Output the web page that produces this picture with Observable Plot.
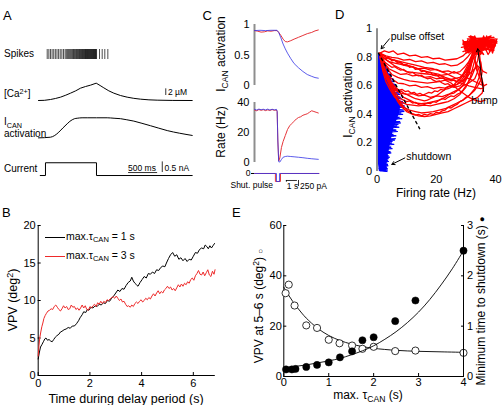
<!DOCTYPE html>
<html><head><meta charset="utf-8">
<script src="https://cdn.jsdelivr.net/npm/d3@7"></script>
<script src="https://cdn.jsdelivr.net/npm/@observablehq/plot@0.6"></script>
<style>
body{margin:0;background:#fff;}
#root{position:relative;width:503px;height:405px;overflow:hidden;background:#fff;font-family:"Liberation Sans",Arial,sans-serif;color:#000;}
.t{position:absolute;white-space:nowrap;line-height:1;}
.t sub{font-size:0.72em;vertical-align:-0.35em;line-height:0}
.t sup{font-size:0.72em;vertical-align:0.45em;line-height:0}
.lg{position:absolute;height:0;width:20px;}
</style></head><body><div id="root"></div><script>
// ---------------- DATA ----------------
// Panel A
const spikeTimesMs = [150,178,206,234,262,290,318,346,374,402,430,458,478,496,513,529,545,560,575,589,603,617,630,643,656,668,680,692,704,715,726,737,748,759,769,779,789,799,809,819,828,837,846,855,864,873,882,891,900,909,918,927,936,945,954,963,972,981,990,999,1050,1096,1141,1193];
const caTrace = [[0,0.1],[100,0.15],[206,0.4],[290,0.7],[379,1.1],[470,1.7],[551,2.3],[640,3.0],[723,3.8],[810,4.3],[895,4.7],[993,5.3],[1060,4.6],[1124,3.9],[1210,3.0],[1296,2.3],[1410,1.6],[1526,1.1],[1640,0.75],[1755,0.5],[1900,0.3],[2042,0.2],[2300,0.12],[2645,0.1]];
const icanTrace = [[0,0.02],[206,0.05],[280,0.13],[350,0.28],[420,0.47],[494,0.66],[540,0.77],[580,0.84],[620,0.89],[666,0.91],[750,0.93],[838,0.93],[1000,0.93],[1182,0.93],[1300,0.91],[1411,0.89],[1520,0.84],[1640,0.78],[1780,0.68],[1928,0.57],[2070,0.46],[2215,0.35],[2430,0.23],[2645,0.13]];
const currentTrace = [[30,0],[120,0],[120,0.6],[998,0.6],[998,0],[2645,0]];

// Panel B
const vpvTau1 = [[0,2.2],[0.04,3.0],[0.09,3.8],[0.14,4.1],[0.2,4.5],[0.26,4.9],[0.3,5.0],[0.36,4.7],[0.42,4.8],[0.48,4.6],[0.54,4.5],[0.6,4.8],[0.66,5.1],[0.72,5.3],[0.8,5.5],[0.86,5.8],[0.92,5.9],[1.0,6.1],[1.08,6.2],[1.16,6.4],[1.24,6.3],[1.32,6.6],[1.4,6.6],[1.48,6.9],[1.56,7.3],[1.62,7.7],[1.7,8.1],[1.76,8.5],[1.84,8.4],[1.9,8.8],[1.96,8.7],[2.04,9.1],[2.12,9.0],[2.2,9.3],[2.28,9.2],[2.36,9.5],[2.44,9.4],[2.52,9.7],[2.6,9.6],[2.68,10.0],[2.76,9.9],[2.84,10.3],[2.92,10.6],[3.0,11.0],[3.08,11.4],[3.16,11.2],[3.24,11.6],[3.32,11.5],[3.4,12.0],[3.48,12.4],[3.56,12.6],[3.62,13.1],[3.68,12.6],[3.74,12.3],[3.8,12.1],[3.86,11.9],[3.94,12.4],[4.02,12.8],[4.1,13.2],[4.18,13.0],[4.26,13.6],[4.34,13.5],[4.42,13.8],[4.5,13.6],[4.58,14.1],[4.66,14.0],[4.74,14.4],[4.82,14.6],[4.9,14.5],[4.96,15.0],[5.04,15.6],[5.12,16.1],[5.2,16.4],[5.28,15.9],[5.36,16.1],[5.44,15.5],[5.52,15.7],[5.6,15.3],[5.68,15.6],[5.76,15.2],[5.84,15.5],[5.92,15.4],[6.0,15.9],[6.08,16.4],[6.16,16.3],[6.24,16.8],[6.32,17.0],[6.4,16.9],[6.46,17.4],[6.52,17.2],[6.58,16.9],[6.64,17.3],[6.7,17.0],[6.76,17.3],[6.82,17.6]];
const vpvTau3 = [[0,2.6],[0.03,4.0],[0.06,5.0],[0.1,5.8],[0.14,6.5],[0.18,7.0],[0.22,7.6],[0.27,8.0],[0.32,8.3],[0.38,8.6],[0.44,8.7],[0.5,8.9],[0.56,8.8],[0.62,9.2],[0.68,9.4],[0.74,9.1],[0.8,8.8],[0.86,8.6],[0.92,8.9],[0.98,9.3],[1.04,9.0],[1.1,9.2],[1.16,8.8],[1.22,8.9],[1.28,9.4],[1.34,9.1],[1.4,9.2],[1.46,8.8],[1.52,9.0],[1.58,8.7],[1.64,9.0],[1.7,9.4],[1.76,9.0],[1.82,9.3],[1.88,8.8],[1.94,8.7],[2.0,9.2],[2.06,9.0],[2.12,9.3],[2.18,9.5],[2.24,9.2],[2.3,9.7],[2.36,9.5],[2.42,9.9],[2.48,9.6],[2.54,9.9],[2.6,9.7],[2.66,10.1],[2.72,10.0],[2.78,10.2],[2.84,10.4],[2.9,10.5],[2.96,10.3],[3.02,10.6],[3.08,10.3],[3.14,10.0],[3.2,10.2],[3.26,9.8],[3.32,9.9],[3.38,9.5],[3.44,9.2],[3.5,9.3],[3.56,9.1],[3.62,9.4],[3.68,9.2],[3.74,9.6],[3.8,9.8],[3.86,9.6],[3.92,9.9],[3.98,10.1],[4.04,9.8],[4.1,10.0],[4.16,10.3],[4.22,10.1],[4.28,10.4],[4.34,10.2],[4.4,10.6],[4.46,10.9],[4.52,10.6],[4.58,11.0],[4.64,11.3],[4.7,10.9],[4.76,11.2],[4.82,11.0],[4.88,11.4],[4.94,11.6],[5.0,11.9],[5.06,11.6],[5.12,11.8],[5.18,11.4],[5.24,11.6],[5.3,11.3],[5.36,11.7],[5.42,12.1],[5.48,11.8],[5.54,12.2],[5.6,11.9],[5.66,12.3],[5.72,12.1],[5.78,12.5],[5.84,12.3],[5.9,12.8],[5.96,13.0],[6.02,12.7],[6.08,13.3],[6.14,13.6],[6.2,14.0],[6.26,13.5],[6.32,13.4],[6.38,13.8],[6.44,13.3],[6.5,13.7],[6.56,14.1],[6.62,13.4],[6.68,13.2],[6.74,13.9],[6.8,13.5],[6.84,14.1]];
const bXTicks = [0,2,4,6];
const bYTicks = [0,5,10,15,20];

// Panel C
const cIcanRed = [[0,0.9],[0.3,0.89],[0.6,0.875],[0.9,0.88],[1.2,0.895],[1.5,0.89],[1.8,0.9],[2.05,0.9],[2.2,0.87],[2.4,0.82],[2.6,0.76],[2.8,0.72],[3.0,0.715],[3.3,0.735],[3.6,0.76],[4.0,0.79],[4.4,0.82],[4.8,0.85],[5.2,0.87],[5.5,0.895],[5.8,0.91]];
const cIcanBlue = [[0,0.9],[0.5,0.905],[1,0.9],[1.5,0.905],[2.05,0.905],[2.2,0.87],[2.4,0.78],[2.6,0.68],[2.8,0.6],[3.0,0.53],[3.3,0.44],[3.6,0.36],[4.0,0.29],[4.4,0.23],[4.8,0.18],[5.2,0.15],[5.5,0.13],[5.8,0.12]];
const cRateRed = [[0,35],[0.2,34.5],[0.4,35.3],[0.6,34.8],[0.8,35.2],[1,34.6],[1.2,35.1],[1.4,34.7],[1.6,35.3],[1.8,34.8],[2.0,35],[2.06,34],[2.12,15],[2.2,1],[2.3,3],[2.45,10],[2.6,14],[2.8,18],[3.0,22],[3.2,24.5],[3.4,26],[3.6,27.5],[3.8,29],[4.0,30],[4.2,30.5],[4.4,31.5],[4.6,32],[4.8,32.5],[5.0,33.5],[5.2,34.5],[5.4,34],[5.6,33.5],[5.8,33]];
const cRateBlue = [[0,35.5],[0.2,35],[0.4,35.6],[0.6,35.2],[0.8,35.5],[1,35.1],[1.2,35.6],[1.4,35],[1.6,35.5],[1.8,35.1],[2.0,35.4],[2.06,34],[2.12,15],[2.2,0.5],[2.3,0.3],[2.45,2],[2.6,3.5],[2.8,4],[3.0,4.2],[3.3,4],[3.6,3.8],[4.0,3.5],[4.4,3.2],[4.8,2.8],[5.2,2.5],[5.5,2.3],[5.8,2.1]];
const cPulseRed = [[0,0],[1.9,0],[1.9,-330],[2.36,-330],[2.36,0],[5.85,0]];
const cPulseBlue = [[0,0],[2.0,0],[2.0,-330],[2.27,-330],[2.27,0],[5.85,0]];

// Panel D
const dBlueEnvelope = [[0.82,0.3,1.0],[0.78,0.3,2.0],[0.7,0.3,3.7],[0.6,0.3,5.6],[0.5,0.3,7.3],[0.45,0.3,8.0],[0.4,0.3,7.5],[0.35,0.3,6.6],[0.3,0.3,5.7],[0.2,0.3,4.6],[0.1,0.4,3.7],[0.05,0.5,3.4],[0,0.8,3.1]];
const dBlue = [
 [[0.5,0.82],[1.2,0.80],[0.3,0.79],[2.5,0.76],[0.4,0.75],[3.5,0.73],[0.3,0.72],[4.2,0.70],[0.5,0.69],[5.0,0.67],[0.3,0.66],[5.8,0.63],[0.6,0.62],[6.5,0.60],[0.4,0.59],[7.2,0.57],[0.5,0.56],[7.8,0.54],[0.3,0.53],[8.3,0.51],[0.7,0.50],[9.0,0.48],[0.4,0.47],[9.5,0.45],[0.6,0.44],[9.2,0.42],[0.3,0.41],[8.8,0.40],[0.8,0.39],[8.5,0.37],[0.4,0.36],[8.0,0.34],[0.6,0.33],[7.5,0.31],[0.5,0.30],[7.0,0.28],[0.8,0.27],[6.5,0.25],[0.5,0.24],[6.0,0.22],[0.7,0.21],[5.8,0.19],[0.6,0.18],[5.2,0.16],[0.8,0.15],[4.8,0.13],[0.6,0.12],[4.3,0.10],[0.9,0.09],[4.0,0.07],[0.7,0.06],[3.8,0.04],[0.8,0.03],[3.6,0.02],[1.0,0.01],[3.4,0.0]],
 [[0.8,0.81],[2.0,0.78],[0.5,0.77],[3.0,0.74],[0.6,0.74],[4.0,0.71],[0.4,0.70],[4.8,0.68],[0.7,0.67],[5.5,0.65],[0.5,0.64],[6.2,0.61],[0.4,0.61],[6.8,0.58],[0.6,0.57],[7.5,0.55],[0.5,0.55],[8.0,0.52],[0.4,0.52],[8.7,0.49],[0.6,0.49],[9.3,0.46],[0.5,0.46],[9.0,0.43],[0.7,0.43],[8.2,0.41],[0.5,0.39],[7.6,0.38],[0.6,0.35],[7.8,0.35],[0.4,0.32],[6.8,0.32],[0.7,0.29],[6.2,0.29],[0.6,0.26],[5.5,0.26],[0.5,0.23],[6.3,0.23],[0.8,0.20],[5.0,0.20],[0.6,0.17],[4.6,0.17],[0.7,0.14],[4.5,0.14],[0.8,0.11],[3.9,0.11],[0.6,0.08],[3.7,0.08],[0.9,0.05],[3.5,0.05],[0.7,0.02],[3.2,0.02]],
 [[0.3,0.4],[5,0.39],[0.5,0.38],[7,0.37],[0.4,0.36],[6,0.35],[0.6,0.34],[7.2,0.33],[0.3,0.32],[5.5,0.31],[0.5,0.3],[6.5,0.29],[0.4,0.28],[5,0.27],[0.6,0.26],[5.8,0.25],[0.5,0.24],[4.5,0.23],[0.3,0.22],[5.2,0.21],[0.6,0.2],[4.2,0.19],[0.4,0.18],[4.8,0.17],[0.7,0.16],[3.8,0.15],[0.5,0.14],[4.2,0.13],[0.6,0.12],[3.6,0.11],[0.4,0.1],[3.9,0.09],[0.7,0.08],[3.5,0.07],[0.5,0.06],[3.7,0.05],[0.8,0.04],[3.4,0.03],[0.6,0.02],[3.6,0.01],[0.9,0.005],[3.3,0.0]]
];
const dRed = [
 [[1,0.83],[2.5,0.845],[4,0.835],[5.5,0.845],[7,0.82],[9,0.83],[11,0.81],[13,0.815],[15,0.8],[17,0.805],[19,0.79],[21,0.795],[23,0.78],[25,0.785],[27,0.79],[29,0.81],[30.5,0.84],[32,0.87],[33,0.89]],
 [[1,0.83],[3,0.81],[5,0.8],[7,0.795],[9,0.78],[11,0.785],[13,0.77],[15,0.775],[17,0.76],[19,0.765],[21,0.75],[23,0.755],[25,0.74],[27,0.745],[29,0.77],[30.5,0.8],[32,0.84],[33,0.87]],
 [[1,0.83],[2.5,0.79],[4,0.77],[6,0.76],[8,0.75],[10,0.74],[12,0.735],[14,0.72],[16,0.725],[18,0.71],[20,0.715],[22,0.7],[24,0.705],[26,0.69],[28,0.7],[29.5,0.73],[31,0.77],[32.5,0.83],[34,0.88]],
 [[1,0.82],[2.5,0.76],[4,0.72],[6,0.7],[8,0.68],[10,0.685],[12,0.67],[14,0.675],[16,0.66],[18,0.665],[20,0.65],[22,0.655],[24,0.64],[26,0.65],[28,0.66],[30,0.7],[31.5,0.76],[33,0.82],[35,0.87]],
 [[1,0.82],[2,0.74],[3.5,0.68],[5,0.65],[7,0.62],[9,0.615],[11,0.6],[13,0.605],[15,0.59],[17,0.595],[19,0.58],[21,0.59],[23,0.585],[25,0.6],[27,0.61],[28.5,0.64],[30,0.68],[31.5,0.75],[33,0.83],[34,0.88]],
 [[1,0.81],[2,0.72],[3,0.66],[4.5,0.61],[6,0.57],[8,0.55],[10,0.54],[12,0.545],[14,0.53],[16,0.535],[18,0.52],[20,0.53],[22,0.525],[24,0.54],[26,0.55],[28,0.58],[29.5,0.62],[31,0.68],[32,0.76],[33.5,0.85]],
 [[1,0.8],[2,0.7],[3,0.63],[4.5,0.57],[6,0.52],[8,0.49],[10,0.47],[12,0.465],[14,0.46],[16,0.465],[18,0.46],[20,0.47],[22,0.48],[24,0.49],[26,0.51],[28,0.54],[30,0.59],[31.5,0.66],[32.5,0.74],[33.5,0.82]],
 [[2,0.75],[3,0.66],[4.5,0.59],[6,0.53],[7.5,0.48],[9,0.45],[11,0.43],[13,0.42],[15,0.41],[17,0.415],[19,0.42],[21,0.43],[23,0.44],[25,0.46],[27,0.48],[29,0.5],[31,0.53],[33,0.58],[34.5,0.66],[35,0.75],[34.5,0.84]],
 [[3,0.68],[4.5,0.6],[6,0.54],[8,0.48],[10,0.43],[12,0.405],[14,0.39],[16,0.385],[18,0.39],[20,0.4],[22,0.41],[24,0.42],[26,0.44],[28,0.46],[30,0.48],[32,0.5],[34,0.52],[35.5,0.55],[36,0.6],[35,0.68],[33.5,0.76]],
 [[2,0.8],[4,0.77],[6,0.74],[8,0.72],[10,0.7],[12,0.695],[14,0.69],[16,0.685],[18,0.68],[20,0.67],[22,0.675],[24,0.68],[26,0.7],[28,0.68],[30,0.66],[32,0.64],[34,0.62],[36,0.6],[37,0.61]],
 [[1,0.83],[3,0.8],[5,0.785],[7,0.77],[9,0.75],[11,0.74],[13,0.725],[15,0.71],[17,0.7],[19,0.69],[21,0.68],[23,0.66],[25,0.645],[27,0.63],[29,0.615],[31,0.6],[33,0.59],[35,0.58],[36,0.585],[35,0.64],[33.5,0.72],[33,0.8]],
 [[2,0.79],[3.5,0.72],[5,0.68],[7,0.66],[9,0.645],[11,0.635],[13,0.63],[15,0.625],[17,0.62],[19,0.625],[21,0.63],[23,0.64],[25,0.62],[27,0.58],[29,0.55],[31,0.52],[33,0.5],[35,0.49],[36.5,0.5]],
 [[1.5,0.82],[4,0.79],[7,0.775],[10,0.76],[13,0.745],[16,0.73],[19,0.72],[21,0.705],[23,0.69],[25,0.67],[27,0.65],[29,0.63],[30,0.66],[31,0.72],[32,0.8],[32.5,0.86]],
 [[5,0.62],[7,0.57],[9,0.52],[11,0.5],[13,0.48],[15,0.475],[17,0.48],[19,0.49],[21,0.5],[23,0.52],[25,0.55],[27,0.57],[29,0.6],[31,0.62],[33,0.65],[34,0.7],[33,0.78]],
 [[1,0.83],[2,0.8],[3,0.79],[4,0.8],[5,0.775],[6,0.78],[7,0.76],[8,0.765],[9,0.745],[10,0.75],[11,0.73],[12,0.735],[13,0.715],[14,0.72],[15,0.7],[16,0.705],[17,0.69],[18,0.695],[19,0.675],[20,0.68],[21,0.66],[22,0.665],[23,0.645],[24,0.65],[25,0.635],[26,0.64],[27,0.63],[28,0.645],[29,0.67],[30,0.7],[31,0.74],[32,0.8],[33,0.86]],
 [[1.5,0.8],[2.5,0.72],[3.5,0.67],[4.5,0.64],[5.5,0.6],[6.5,0.585],[7.5,0.57],[8.5,0.575],[9.5,0.56],[10.5,0.565],[11.5,0.55],[12.5,0.555],[13.5,0.54],[14.5,0.548],[15.5,0.535],[16.5,0.545],[17.5,0.555],[18.5,0.55],[19.5,0.565],[20.5,0.56],[21.5,0.575],[22.5,0.57],[23.5,0.59],[24.5,0.6],[25.5,0.595],[26.5,0.62],[27.5,0.64],[28.5,0.66],[29.5,0.7],[30.5,0.74],[31.5,0.79],[32.5,0.84],[33.5,0.88]],
 [[2,0.77],[3,0.7],[4,0.65],[5,0.6],[6,0.56],[7,0.53],[8,0.51],[9,0.5],[10,0.49],[11,0.495],[12,0.48],[13,0.485],[14,0.47],[15,0.475],[16,0.47],[17,0.48],[18,0.475],[19,0.49],[20,0.485],[21,0.5],[22,0.51],[23,0.505],[24,0.52],[25,0.53],[26,0.525],[27,0.54],[28,0.55],[29,0.57],[30,0.6],[31,0.63],[32,0.67],[33,0.72],[34,0.78],[34.5,0.84]],
 [[3,0.7],[4,0.64],[5,0.58],[6,0.53],[7,0.49],[8,0.46],[9,0.44],[10,0.42],[11,0.41],[12,0.4],[13,0.395],[14,0.4],[15,0.39],[16,0.4],[17,0.395],[18,0.405],[19,0.4],[20,0.415],[21,0.41],[22,0.425],[23,0.43],[24,0.45],[25,0.445],[26,0.46],[27,0.47],[28,0.49],[29,0.5],[30,0.52],[31,0.53],[32,0.55],[33,0.57],[34,0.6],[35,0.64],[35.5,0.7],[35,0.77]],
 [[1,0.82],[2,0.78],[3,0.76],[4,0.745],[5,0.73],[6,0.735],[7,0.72],[8,0.71],[9,0.715],[10,0.7],[11,0.69],[12,0.695],[13,0.68],[14,0.67],[15,0.675],[16,0.66],[17,0.65],[18,0.655],[19,0.64],[20,0.63],[21,0.635],[22,0.62],[23,0.61],[24,0.615],[25,0.6],[26,0.59],[27,0.595],[28,0.6],[29,0.62],[30,0.65],[31,0.7],[32,0.77],[33,0.84]],
 [[4,0.64],[5,0.6],[6,0.58],[7,0.56],[8,0.565],[9,0.55],[10,0.54],[11,0.53],[12,0.52],[13,0.51],[14,0.505],[15,0.5],[16,0.495],[17,0.5],[18,0.51],[19,0.52],[20,0.53],[21,0.545],[22,0.56],[23,0.575],[24,0.58],[25,0.59],[26,0.6],[27,0.61],[28,0.62],[29,0.64],[30,0.66],[31,0.68],[32,0.7],[33,0.72],[34,0.74],[35,0.72],[36,0.7],[37,0.69]],
 [[29,0.84],[38,0.9],[28.5,0.87],[40,0.92],[30,0.9],[39.5,0.94],[30.5,0.93],[38,0.88],[29,0.89],[40.5,0.9],[31,0.945],[39,0.86],[30,0.85],[38.5,0.92],[29.5,0.91],[40,0.88],[31.5,0.95],[37,0.85],[30,0.88],[39.5,0.91],[32,0.83],[38,0.94],[29,0.9],[40,0.89],[33,0.82],[37.5,0.93],[30.5,0.86],[39,0.87],[31,0.92],[40.5,0.91],[30,0.83],[38.5,0.95],[29.5,0.88],[39.5,0.85],[32,0.94],[36,0.82],[30,0.9],[40,0.93]],
 [[30,0.88],[33,0.95],[35,0.82],[37,0.95],[39,0.83],[40.5,0.93],[38,0.84],[36,0.95],[34,0.82],[32,0.94],[30,0.84],[29,0.92],[31,0.83],[33,0.93],[35,0.84],[37,0.93],[39,0.84],[40,0.9],[37.5,0.82],[35.5,0.91],[33.5,0.83],[31.5,0.91],[29.5,0.86],[34,0.9],[38,0.9],[36,0.86],[32,0.88],[30.5,0.92]]
];
const dDashed = [[0.5,0.83],[14.4,0.30]];
const dNotes = [
 {text:"pulse offset", tx:4.6, ty:0.945, x1:4.2, y1:0.93, x2:1.4, y2:0.86},
 {text:"shutdown", tx:9.9, ty:0.105, x1:9.4, y1:0.095, x2:5, y2:0.05},
 {text:"bump", tx:31.8, ty:0.5, x1:36, y1:0.56, x2:34, y2:0.86}
];
const dXTicks = [0,20,40];
const dYTicks = [0,0.2,0.4,0.6,0.8,1];

// Panel E
const tauCan = [0.04,0.11,0.24,0.5,0.74,1.0,1.24,1.52,1.75,2.0,2.48,2.93,4.0];
const vpvAt56 = [33.1,36.5,28.2,20.3,19.3,14.6,13.2,12.3,11.0,11.8,10.1,10.3,9.4];
const tauCanFilled = [0.05,0.18,0.26,0.5,0.74,1.0,1.25,1.52,1.75,2.0,2.48,2.93,4.0];
const minTimeShutdown = [0.14,0.14,0.15,0.19,0.23,0.28,0.38,0.5,0.72,0.78,1.1,1.51,2.5];
const vpvFit = [[0,35.5],[0.1,32.5],[0.2,29.8],[0.3,27.4],[0.4,25.2],[0.5,23.2],[0.75,19.2],[1,16.3],[1.25,14.3],[1.5,12.9],[1.75,11.9],[2,11.2],[2.5,10.4],[3,10],[3.5,9.8],[4,9.6]];
const shutdownFit = [[0,0.17],[0.25,0.2],[0.5,0.23],[0.75,0.27],[1,0.31],[1.25,0.36],[1.5,0.43],[1.75,0.51],[2,0.61],[2.25,0.74],[2.5,0.89],[2.75,1.07],[3,1.28],[3.25,1.53],[3.5,1.82],[3.75,2.14],[4,2.5]];

// ---------------- RENDER ----------------
const root = document.getElementById("root");
const FONT = '"Liberation Sans", Arial, sans-serif';
const X = d => d[0], Y = d => d[1];
const fmt = d => String(d);
function addPlot(opts, left, top, fontSize = 11) {
  const svg = Plot.plot({...opts, style: {background: "transparent", fontFamily: FONT, fontSize: fontSize + "px", overflow: "visible", color: "#000"}});
  svg.style.position = "absolute"; svg.style.left = left + "px"; svg.style.top = top + "px";
  root.appendChild(svg);
}
function txt(html, x, y, {size = 11, anchor = "start", rotate = 0} = {}) {
  const d = document.createElement("div");
  d.className = "t"; d.innerHTML = html; d.style.fontSize = size + "px";
  d.style.left = x + "px"; d.style.top = y + "px";
  const tx = anchor === "start" ? "0" : anchor === "middle" ? "-50%" : "-100%";
  d.style.transform = rotate ? `translate(-50%,-50%) rotate(${rotate}deg)` : `translate(${tx},-50%)`;
  root.appendChild(d);
}
function legendLine(x, y, color) {
  const d = document.createElement("div"); d.className = "lg";
  d.style.left = x + "px"; d.style.top = y + "px"; d.style.borderTop = `1px solid ${color}`;
  root.appendChild(d);
}

// ---- Panel A ----
const aX = {domain: [0, 2650], axis: null};
const aBase = {width: 200, marginLeft: 38, marginRight: 8};
addPlot({...aBase, height: 20, marginTop: 4, marginBottom: 6, x: aX,
  marks: [Plot.tickX(spikeTimesMs, {x: d => d, stroke: "#000", strokeWidth: 0.7})]}, 0, 45);
addPlot({...aBase, height: 30, marginTop: 0, marginBottom: 0, x: aX, y: {domain: [-1.4, 7.6], axis: null},
  marks: [Plot.line(caTrace, {x: X, y: Y, stroke: "#000", strokeWidth: 1}),
          Plot.ruleX([2190], {y1: 1.6, y2: 3.6, stroke: "#000", strokeWidth: 0.8})]}, 0, 75);
addPlot({...aBase, height: 30, marginTop: 0, marginBottom: 0, x: aX, y: {domain: [-0.19, 1.17], axis: null},
  marks: [Plot.line(icanTrace, {x: X, y: Y, stroke: "#000", strokeWidth: 1, curve: "monotone-x"})]}, 0, 112);
addPlot({...aBase, height: 20, marginTop: 0, marginBottom: 0, x: aX, y: {domain: [-0.14, 0.80], axis: null},
  marks: [Plot.line(currentTrace, {x: X, y: Y, stroke: "#000", strokeWidth: 1}),
          Plot.ruleY([0.14], {x1: 1550, x2: 2050, stroke: "#000", strokeWidth: 0.8}),
          Plot.ruleX([2130], {y1: 0.14, y2: 0.64, stroke: "#000", strokeWidth: 0.8})]}, 0, 158);
txt("A", 3, 14.5, {size: 13});
txt("Spikes", 4, 54, {size: 10});
txt("[Ca<sup>2+</sup>]", 4, 94, {size: 10});
txt("I<sub>CAN</sub>", 4, 121.5, {size: 10});
txt("activation", 4, 134, {size: 10});
txt("Current", 4, 169, {size: 10});
txt("2 µM", 168, 91.5, {size: 8.5});
txt("500 ms", 142, 167.5, {size: 8.5, anchor: "middle"});
txt("0.5 nA", 164.5, 167.5, {size: 8.5});

// ---- Panel B ----
addPlot({width: 230, height: 205, marginLeft: 37.7, marginRight: 15.2, marginTop: 25, marginBottom: 30,
  x: {domain: [0, 6.85], ticks: bXTicks, tickFormat: fmt, tickSize: -3, tickPadding: 7, label: null},
  y: {domain: [0, 20], ticks: bYTicks, tickFormat: fmt, tickSize: -3, tickPadding: 5.5, label: null},
  marks: [
    Plot.ruleX([0], {stroke: "#000"}), Plot.ruleY([0], {stroke: "#000"}),
    Plot.line(vpvTau1, {x: X, y: Y, stroke: "#000", strokeWidth: 1}),
    Plot.line(vpvTau3, {x: X, y: Y, stroke: "#ee2a2a", strokeWidth: 1})
  ]}, 0, 200);
txt("B", 2, 212, {size: 13});
txt("VPV (deg<sup>2</sup>)", 12.5, 300, {size: 12.5, rotate: -90});
txt("Time during delay period (s)", 126, 398.5, {size: 12.5, anchor: "middle"});
legendLine(45, 237.2, "#000");
legendLine(45, 256.2, "#ee2a2a");
txt("max.τ<sub>CAN</sub> = 1 s", 66, 235.5, {size: 10.5});
txt("max.τ<sub>CAN</sub> = 3 s", 66, 254.5, {size: 10.5});

// ---- Panel C ----
const cX = {domain: [0, 6], axis: null};
const cBase = {width: 125, marginLeft: 54, marginRight: 5};
const RED = "#e6353a", BLUE = "#3434e6";
addPlot({...cBase, height: 85, marginTop: 14, marginBottom: 10, x: cX,
  y: {domain: [0, 1], ticks: [0, 0.5, 1], tickFormat: fmt, tickSize: 0, tickPadding: 5, label: null},
  marks: [
    Plot.ruleX([0], {stroke: "#8e8e8e", strokeWidth: 2}),
    Plot.line(cIcanRed, {x: X, y: Y, stroke: RED, strokeWidth: 1}),
    Plot.line(cIcanBlue, {x: X, y: Y, stroke: BLUE, strokeWidth: 1, strokeOpacity: 0.8})
  ]}, 200, 10);
addPlot({...cBase, height: 75, marginTop: 7, marginBottom: 8, x: cX,
  y: {domain: [0, 40], ticks: [0, 20, 40], tickFormat: fmt, tickSize: 0, tickPadding: 5, label: null},
  marks: [
    Plot.ruleX([0], {stroke: "#8e8e8e", strokeWidth: 2}),
    Plot.line(cRateRed, {x: X, y: Y, stroke: RED, strokeWidth: 1}),
    Plot.line(cRateBlue, {x: X, y: Y, stroke: BLUE, strokeWidth: 1, strokeOpacity: 0.8})
  ]}, 200, 95);
addPlot({...cBase, height: 25, marginTop: 5, marginBottom: 5, x: cX,
  y: {domain: [-537, 82.5], ticks: [0], tickFormat: fmt, tickSize: 3, tickPadding: 1, label: null},
  marks: [
    Plot.line(cPulseRed, {x: X, y: Y, stroke: RED, strokeWidth: 1}),
    Plot.line(cPulseBlue, {x: X, y: Y, stroke: BLUE, strokeWidth: 1, strokeOpacity: 0.8}),
    Plot.ruleY([-289], {x1: 2.9, x2: 3.9, stroke: "#000", strokeWidth: 0.8}),
    Plot.ruleX([2.9], {y1: -289, y2: -360, stroke: "#000", strokeWidth: 0.8}),
    Plot.ruleX([4.0], {y1: -289, y2: -539, stroke: "#000", strokeWidth: 0.8})
  ]}, 200, 166, 8.5);
txt("C", 202.5, 14.5, {size: 13});
txt("I<sub>CAN</sub> activation", 221, 54, {size: 12, rotate: -90});
txt("Rate (Hz)", 221, 132, {size: 12, rotate: -90});
txt("Shut. pulse", 273, 184.5, {size: 8.5, anchor: "end"});
txt("1 s", 292.5, 186, {size: 8.5, anchor: "middle"});
txt("250 pA", 300, 186, {size: 8.5});

// ---- Panel D ----
const dBlueRows = dBlue.flatMap((tr, k) => tr.map(p => ({x: p[0], y: p[1], k})));
const dRedRows = dRed.flatMap((tr, k) => tr.map(p => ({x: p[0], y: p[1], k})));
addPlot({width: 173, height: 175, marginLeft: 46.5, marginRight: 8, marginTop: 13.3, marginBottom: 19,
  x: {domain: [0, 40], ticks: dXTicks, tickFormat: fmt, tickSize: 0, tickPadding: 4, label: null},
  y: {domain: [0, 1], ticks: dYTicks, tickFormat: fmt, tickSize: 0, tickPadding: 5, label: null},
  marks: [
    Plot.areaX(dBlueEnvelope, {y: d => d[0], x1: d => d[1], x2: d => d[2], fill: "#0000ff", curve: "linear"}),
    Plot.line(dBlueRows, {x: "x", y: "y", z: "k", stroke: "#0000ff", strokeWidth: 1}),
    Plot.ruleX([0], {stroke: "#8e8e8e", strokeWidth: 2}),
    Plot.line(dRedRows, {x: "x", y: "y", z: "k", stroke: "#ff0000", strokeWidth: 1.3}),
    Plot.line(dDashed, {x: X, y: Y, stroke: "#000", strokeWidth: 1.4, strokeDasharray: "2.5,3.5"}),
    Plot.arrow(dNotes, {x1: "x1", y1: "y1", x2: "x2", y2: "y2", stroke: "#000", strokeWidth: 1, headLength: 5}),
    Plot.text(dNotes, {x: "tx", y: "ty", text: "text", textAnchor: "start", fontSize: 10.5, fill: "#000"})
  ]}, 330, 15);
txt("D", 335, 14, {size: 13});
txt("I<sub>CAN</sub> activation", 348, 100, {size: 12, rotate: -90});
txt("Firing rate (Hz)", 436, 193, {size: 12, anchor: "middle"});

// ---- Panel E ----
const eBase = {width: 263, height: 205, marginLeft: 43.3, marginRight: 40, marginTop: 25, marginBottom: 29};
addPlot({...eBase,
  x: {domain: [0, 4], ticks: [0, 1, 2, 3, 4], tickFormat: fmt, tickSize: -3, tickPadding: 5, label: null},
  y: {domain: [0, 60], ticks: [0, 20, 40, 60], tickFormat: fmt, tickSize: -3, tickPadding: 5, label: null},
  marks: [
    Plot.ruleX([0], {stroke: "#000"}), Plot.ruleY([0], {stroke: "#000"}),
    Plot.line(vpvFit, {x: X, y: Y, stroke: "#000", strokeWidth: 0.9, curve: "catmull-rom"}),
    Plot.dot(tauCan.map((t, i) => [t, vpvAt56[i]]), {x: X, y: Y, r: 3.6, stroke: "#000", strokeWidth: 0.8, fill: "#fff"})
  ]}, 240, 200);
addPlot({...eBase,
  x: {domain: [0, 4], axis: null},
  y: {domain: [0, 3], ticks: [0, 1, 2, 3], tickFormat: fmt, axis: "right", tickSize: -3, tickPadding: 6.5, label: null},
  marks: [
    Plot.ruleX([4], {stroke: "#000"}),
    Plot.line(shutdownFit, {x: X, y: Y, stroke: "#000", strokeWidth: 0.9, curve: "catmull-rom"}),
    Plot.dot(tauCanFilled.map((t, i) => [t, minTimeShutdown[i]]), {x: X, y: Y, r: 3.6, fill: "#000", stroke: "#000", strokeWidth: 0.5})
  ]}, 240, 200);
txt("E", 232, 212, {size: 13});
txt("VPV at 5–6 s (deg<sup>2</sup>) <span style='font-size:8px'>○</span>", 258.5, 306, {size: 12, rotate: -90});
txt("Minimum time to shutdown (s) <span style='font-size:9px'>●</span>", 480.5, 301, {size: 12, rotate: -90});
txt("max. τ<sub>CAN</sub> (s)", 368, 395, {size: 12, anchor: "middle"});
</script></body></html>
